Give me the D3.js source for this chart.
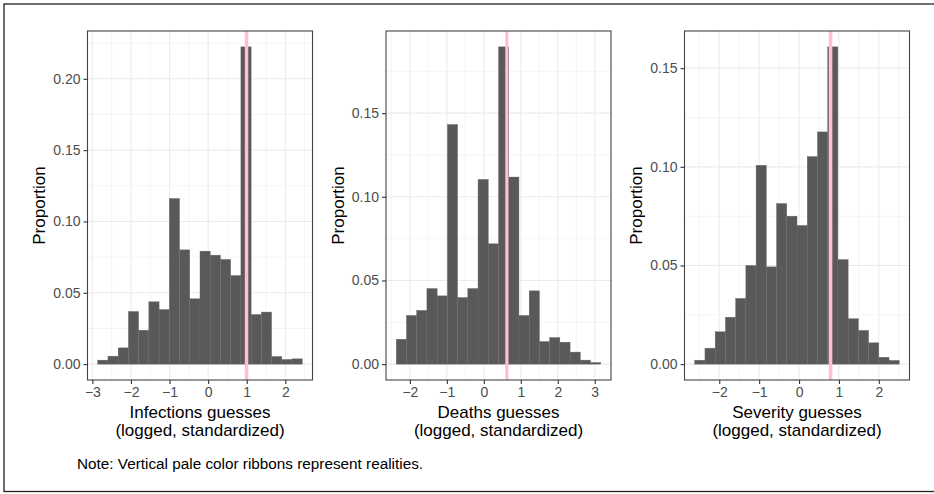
<!DOCTYPE html>
<html>
<head>
<meta charset="utf-8">
<script src="https://cdn.jsdelivr.net/npm/d3@7"></script>
<style>
  body { margin: 0; background: #fff; }
  svg { display: block; font-family: "Liberation Sans", Arial, Helvetica, sans-serif; }
</style>
</head>
<body>
<div id="chart"></div>
<script>
// three histograms of standardized guesses, pink ribbon = the real value
var titles = ["Infections guesses", "Deaths guesses", "Severity guesses"];
var subtitle = "(logged, standardized)";
var note = "Note: Vertical pale color ribbons represent realities.";

// bar heights (proportion), 20 bins each
var infectionsProp = [0.0028, 0.0056, 0.0114, 0.0369, 0.0238, 0.0437, 0.0383, 0.1161, 0.0801, 0.0458,
                      0.0792, 0.0764, 0.0734, 0.0621, 0.2224, 0.0348, 0.0365, 0.0054, 0.0033, 0.0037];
var deathsProp = [0.0149, 0.0291, 0.0321, 0.0452, 0.0408, 0.1432, 0.0398, 0.0452, 0.1104, 0.0719,
                  0.1896, 0.1118, 0.0291, 0.0438, 0.0135, 0.0159, 0.0131, 0.0072, 0.0024, 0.0010];
var severityProp = [0.0020, 0.0081, 0.0164, 0.0238, 0.0333, 0.0500, 0.1008, 0.0493, 0.0814, 0.0750,
                    0.0703, 0.1052, 0.1177, 0.1608, 0.0530, 0.0230, 0.0171, 0.0108, 0.0035, 0.0019];

// left edge of first bin and bin width
var binStart = [-2.861, -2.369, -2.615];
var binWidth = [0.265, 0.2766, 0.2564];

// reality ribbons
var realityLow = [0.95, 0.58, 0.745];
var realityHigh = [1.04, 0.665, 0.835];

var xTicks = [[-3, -2, -1, 0, 1, 2], [-2, -1, 0, 1, 2, 3], [-2, -1, 0, 1, 2]];
var yTicks = [[0, 0.05, 0.10, 0.15, 0.20], [0, 0.05, 0.10, 0.15], [0, 0.05, 0.10, 0.15]];

(function() {
  var W = 934, H = 494;
  var panelLeft = [87.5, 386, 684.5],
      panelW = 225,
      panelTop = 31,
      panelBottom = 380;

  var series = [infectionsProp, deathsProp, severityProp];

  var svg = d3.select("#chart").append("svg")
    .attr("width", W)
    .attr("height", H);

  // outer frame
  svg.append("rect")
    .attr("x", 4).attr("y", 4)
    .attr("width", W + 10).attr("height", 487.5)
    .attr("fill", "none")
    .attr("stroke", "#222")
    .attr("stroke-width", 1.3);

  function minors(lo, hi, step) {
    var out = [];
    var v = Math.ceil((lo - step / 2) / step) * step + step / 2;
    for (; v < hi; v += step) out.push(+v.toFixed(6));
    return out;
  }

  series.forEach(function(vals, i) {
    var n = vals.length;
    var bins = vals.map(function(v, k) {
      return { x0: binStart[i] + k * binWidth[i], x1: binStart[i] + (k + 1) * binWidth[i], p: v };
    });
    var span = n * binWidth[i];
    var xlo = binStart[i] - 0.05 * span, xhi = binStart[i] + span + 0.05 * span;
    var ymax = d3.max(vals);

    var x = d3.scaleLinear().domain([xlo, xhi]).range([panelLeft[i], panelLeft[i] + panelW]);
    var y = d3.scaleLinear().domain([-0.05 * ymax, 1.05 * ymax]).range([panelBottom, panelTop]);

    var g = svg.append("g");

    // grid
    var xMin = minors(xlo, xhi, 1), yMin = minors(-0.05 * ymax, 1.05 * ymax, 0.05);
    g.selectAll(".xminor").data(xMin).enter().append("line")
      .attr("x1", x).attr("x2", x)
      .attr("y1", panelTop).attr("y2", panelBottom)
      .attr("stroke", "#EBEBEB").attr("stroke-width", 0.55);
    g.selectAll(".yminor").data(yMin).enter().append("line")
      .attr("x1", panelLeft[i]).attr("x2", panelLeft[i] + panelW)
      .attr("y1", y).attr("y2", y)
      .attr("stroke", "#EBEBEB").attr("stroke-width", 0.55);
    g.selectAll(".xmajor").data(xTicks[i]).enter().append("line")
      .attr("x1", x).attr("x2", x)
      .attr("y1", panelTop).attr("y2", panelBottom)
      .attr("stroke", "#EBEBEB").attr("stroke-width", 1.1);
    g.selectAll(".ymajor").data(yTicks[i]).enter().append("line")
      .attr("x1", panelLeft[i]).attr("x2", panelLeft[i] + panelW)
      .attr("y1", y).attr("y2", y)
      .attr("stroke", "#EBEBEB").attr("stroke-width", 1.1);

    // bars
    g.selectAll(".bar").data(bins).enter().append("rect")
      .attr("x", function(d) { return x(d.x0); })
      .attr("width", function(d) { return x(d.x1) - x(d.x0); })
      .attr("y", function(d) { return y(d.p); })
      .attr("height", function(d) { return y(0) - y(d.p); })
      .attr("fill", "#595959")
      .attr("stroke", "#6a6a6a")
      .attr("stroke-width", 0.4);

    // reality ribbon
    g.append("rect")
      .attr("x", x(realityLow[i]))
      .attr("width", x(realityHigh[i]) - x(realityLow[i]))
      .attr("y", panelTop)
      .attr("height", panelBottom - panelTop)
      .attr("fill", "#FFC0CB");

    // border
    g.append("rect")
      .attr("x", panelLeft[i]).attr("y", panelTop)
      .attr("width", panelW).attr("height", panelBottom - panelTop)
      .attr("fill", "none")
      .attr("stroke", "#444")
      .attr("stroke-width", 1.1);

    // axes
    var xAxis = g.append("g")
      .attr("transform", "translate(0," + panelBottom + ")")
      .call(d3.axisBottom(x).tickValues(xTicks[i]).tickFormat(d3.format("d")).tickSize(4).tickPadding(3));
    var yAxis = g.append("g")
      .attr("transform", "translate(" + panelLeft[i] + ",0)")
      .call(d3.axisLeft(y).tickValues(yTicks[i]).tickFormat(d3.format(".2f")).tickSize(4).tickPadding(3));
    [xAxis, yAxis].forEach(function(a) {
      a.select(".domain").remove();
      a.selectAll(".tick line").attr("stroke", "#333").attr("stroke-width", 1.1);
      a.selectAll(".tick text")
        .attr("fill", "#4D4D4D")
        .style("font-size", "14px")
        .style("font-family", "'Liberation Sans', Arial, sans-serif");
    });
    xAxis.selectAll(".tick text").attr("dy", null).attr("y", 16.5);

    // titles
    var cx = panelLeft[i] + panelW / 2;
    g.append("text")
      .attr("x", cx).attr("y", 418)
      .attr("text-anchor", "middle")
      .style("font-size", "17px")
      .text(titles[i]);
    g.append("text")
      .attr("x", cx).attr("y", 436)
      .attr("text-anchor", "middle")
      .style("font-size", "17px")
      .text(subtitle);
    g.append("text")
      .attr("transform", "translate(" + (panelLeft[i] - 42.5) + "," + ((panelTop + panelBottom) / 2) + ") rotate(-90)")
      .attr("text-anchor", "middle")
      .style("font-size", "17px")
      .text("Proportion");
  });

  svg.append("text")
    .attr("x", 77).attr("y", 469)
    .style("font-size", "15.3px")
    .text(note);
})();
</script>
</body>
</html>
